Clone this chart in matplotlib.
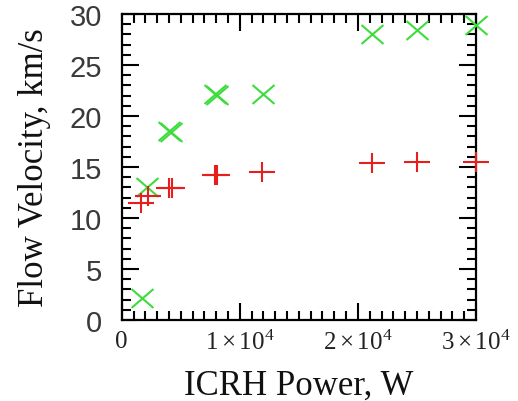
import matplotlib
matplotlib.use('Agg')
import matplotlib.pyplot as plt
from matplotlib.path import Path
from matplotlib.ticker import MultipleLocator, FixedLocator

plt.rcParams['mathtext.fontset'] = 'custom'
plt.rcParams['mathtext.rm'] = 'Liberation Serif'
plt.rcParams['mathtext.it'] = 'Liberation Serif:italic'
plt.rcParams['mathtext.bf'] = 'Liberation Serif:bold'

# ---- data ----
power_green = [1700, 2100, 4000, 4150, 7900, 8100, 12000, 21200, 25000, 30000]
velocity_green = [2.2, 13.0, 18.5, 18.4, 22.2, 22.1, 22.2, 28.0, 28.4, 28.9]
power_red = [1600, 2200, 4000, 4250, 7900, 8100, 11900, 21200, 25000, 30000]
velocity_red = [11.5, 12.2, 12.9, 12.9, 14.2, 14.25, 14.5, 15.35, 15.5, 15.5]
x_ticks = [0, 10000, 20000, 30000]
x_tick_labels = ['0', r'$\mathregular{1\times10^4}$', r'$\mathregular{2\times10^4}$',
                 r'$\mathregular{3\times10^4}$']
y_ticks = [0, 5, 10, 15, 20, 25, 30]
y_tick_labels = ['0', '5', '10', '15', '20', '25', '30']

W, H = 518, 402
fig = plt.figure(figsize=(W / 100, H / 100), dpi=100)
left, right, top, bottom = 121.7, 476, 15, 321
ax = fig.add_axes([left / W, 1 - bottom / H, (right - left) / W, (bottom - top) / H])

plus_path = Path([(-0.7, 0), (0.7, 0), (0, -0.5), (0, 0.5)],
                 [Path.MOVETO, Path.LINETO, Path.MOVETO, Path.LINETO])
cross_path = Path([(-0.58, -0.5), (0.58, 0.5), (-0.58, 0.5), (0.58, -0.5)],
                  [Path.MOVETO, Path.LINETO, Path.MOVETO, Path.LINETO])

ax.plot(power_green, velocity_green, linestyle='none', marker=cross_path,
        markersize=15.8, markeredgewidth=1.5, markeredgecolor='#3ddc3d',
        markerfacecolor='none', clip_on=False, zorder=3)
ax.plot(power_red, velocity_red, linestyle='none', marker=plus_path,
        markersize=19.4, markeredgewidth=1.5, markeredgecolor='#e81e1e',
        markerfacecolor='none', clip_on=False, zorder=3)

ax.set_xlim(0, 30000)
ax.set_ylim(0, 30)
ax.xaxis.set_major_locator(FixedLocator(x_ticks))
ax.xaxis.set_minor_locator(MultipleLocator(1000))
ax.yaxis.set_major_locator(FixedLocator(y_ticks))
ax.yaxis.set_minor_locator(MultipleLocator(1))
ax.set_xticklabels(x_tick_labels, fontfamily='Liberation Serif', fontsize=18, color='#222222')
ax.set_yticklabels(y_tick_labels, fontfamily='Liberation Sans', fontsize=21, color='#3a3a3a')

ax.tick_params(which='both', direction='in', top=True, right=True, width=1.5, color='black')
ax.tick_params(which='major', length=12)
ax.tick_params(which='minor', length=6.5)
ax.tick_params(axis='y', which='major', pad=14)
ax.tick_params(axis='x', which='major', pad=7)
for s in ax.spines.values():
    s.set_linewidth(1.6)

ax.set_xlabel('ICRH Power, W', fontfamily='Liberation Serif', fontsize=25, color='#111111')
ax.set_ylabel('Flow Velocity, km/s', fontfamily='Liberation Serif', fontsize=25, color='#111111')
ax.yaxis.set_label_coords(-0.2, 0.5)
ax.xaxis.set_label_coords(0.5, -0.16)

fig.savefig('out.png', dpi=100)
